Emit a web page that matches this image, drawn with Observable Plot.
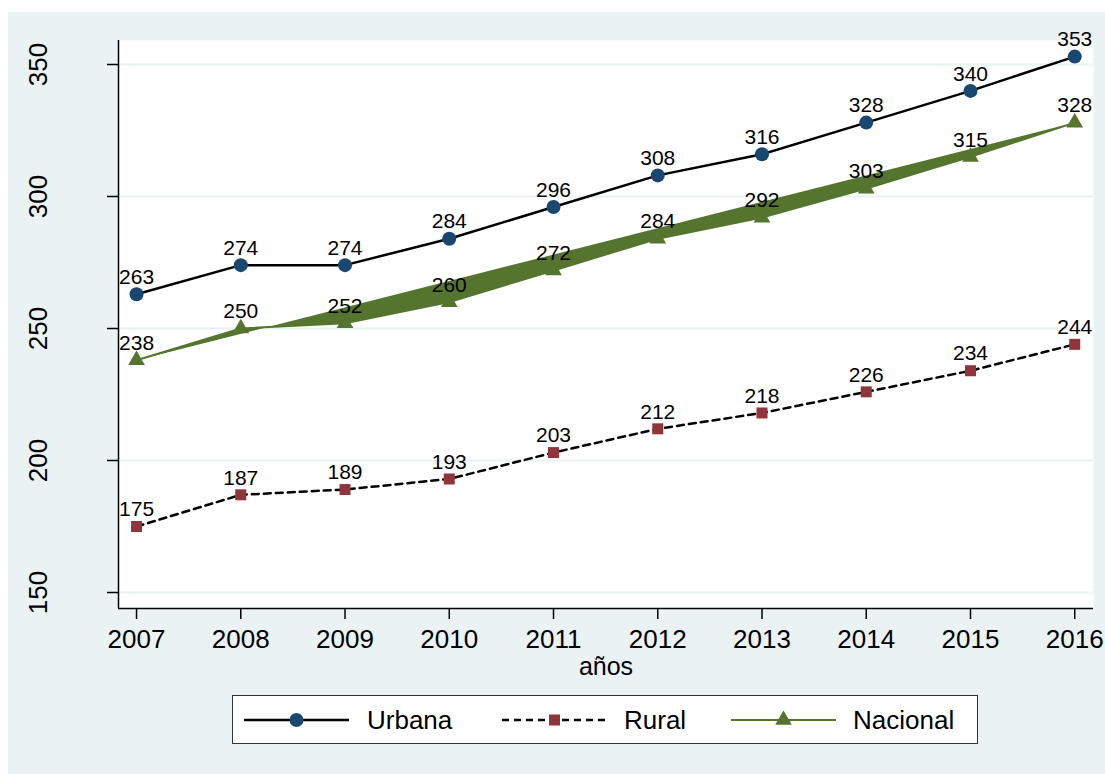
<!DOCTYPE html>
<html><head><meta charset="utf-8">
<script src="https://cdn.jsdelivr.net/npm/d3@7"></script>
<script src="https://cdn.jsdelivr.net/npm/@observablehq/plot@0.6"></script>
<style>
html,body{margin:0;padding:0;background:#fff;}
#wrap{position:absolute;left:8px;top:12px;width:1097px;height:762px;background:#EAF2F3;font-family:"Liberation Sans",Arial,sans-serif;overflow:hidden;}
#legend{position:absolute;left:224px;top:683px;width:744px;height:47px;background:#fff;border:1.5px solid #333;}
</style></head><body><div id="wrap"></div>
<script>
// ---- data ----
const years = [2007, 2008, 2009, 2010, 2011, 2012, 2013, 2014, 2015, 2016];
const urbana = [263, 274, 274, 284, 296, 308, 316, 328, 340, 353];
const rural = [175, 187, 189, 193, 203, 212, 218, 226, 234, 244];
const nacional = [238, 250, 252, 260, 272, 284, 292, 303, 315, 328];
const yTicks = [150, 200, 250, 300, 350];
const xLabel = "años";
const seriesNames = ["Urbana", "Rural", "Nacional"];

const navy = "#1A476F", maroon = "#90353B", green = "#55752F", bg = "#EAF2F3";
const xDomain = [2006.827, 2016.18];
const yDomain = [143.94, 359.09];
const font = "'Liberation Sans', Arial, sans-serif";

const chart = Plot.plot({
  width: 1097,
  height: 680,
  marginLeft: 110,
  marginRight: 12,
  marginTop: 28,
  marginBottom: 84,
  style: {background: bg, fontFamily: font, color: "#000", overflow: "visible"},
  x: {type: "linear", domain: xDomain, axis: null},
  y: {type: "linear", domain: yDomain, axis: null},
  marks: [
    Plot.frame({fill: "white", stroke: "none"}),
    Plot.ruleY(yTicks, {stroke: bg, strokeWidth: 2}),
    Plot.ruleX([xDomain[0]], {stroke: "#000", strokeWidth: 1.5}),
    Plot.ruleY([yDomain[0]], {stroke: "#000", strokeWidth: 1.5}),
    Plot.axisY({ticks: yTicks, tickSize: 11, tickFormat: () => "", label: null, strokeWidth: 1.5}),
    Plot.text(yTicks, {y: d => d, text: d => String(d), frameAnchor: "left", dx: -80, rotate: -90, fontSize: 26, textAnchor: "middle", lineAnchor: "middle"}),
    Plot.axisX({ticks: years, tickSize: 11, tickPadding: 10, tickFormat: d => String(d), label: null, fontSize: 26, strokeWidth: 1.5}),
    Plot.text([xLabel], {text: d => d, frameAnchor: "bottom", dy: 58, fontSize: 25, lineAnchor: "middle"}),
    // lines
    Plot.line(years, {x: years, y: urbana, stroke: "#000", strokeWidth: 2.5}),
    Plot.line(years, {x: years, y: rural, stroke: "#000", strokeWidth: 2.5, strokeDasharray: "7,5"}),
    Plot.line(years, {x: years, y: nacional, stroke: green, fill: green, strokeWidth: 2}),
    // markers
    Plot.dot(years, {x: years, y: urbana, r: 7, fill: navy, stroke: "none"}),
    Plot.dot(years, {x: years, y: rural, r: 6.2, symbol: "square", fill: maroon, stroke: "none"}),
    Plot.dot(years, {x: years, y: nacional, r: 6.2, symbol: "triangle", fill: green, stroke: "none"}),
    // labels
    Plot.text(years, {x: years, y: urbana, text: (d, i) => String(urbana[i]), dy: -17, fontSize: 21, lineAnchor: "middle"}),
    Plot.text(years, {x: years, y: rural, text: (d, i) => String(rural[i]), dy: -17, fontSize: 21, lineAnchor: "middle"}),
    Plot.text(years, {x: years, y: nacional, text: (d, i) => String(nacional[i]), dy: -17, fontSize: 21, lineAnchor: "middle"})
  ]
});

const wrap = document.getElementById("wrap");
wrap.appendChild(chart);

// ---- legend ----
const legend = document.createElement("div");
legend.id = "legend";
const ns = "http://www.w3.org/2000/svg";
const lsvg = document.createElementNS(ns, "svg");
lsvg.setAttribute("width", 744);
lsvg.setAttribute("height", 47);
lsvg.style.display = "block";
const items = [
  {name: seriesNames[0], x0: 11, dash: null, stroke: "#000", sym: d3.symbolCircle, size: Math.PI * 49, fill: navy, tx: 134},
  {name: seriesNames[1], x0: 269, dash: "7,5", stroke: "#000", sym: d3.symbolSquare, size: 121, fill: maroon, tx: 391},
  {name: seriesNames[2], x0: 498, dash: null, stroke: green, sym: d3.symbolTriangle, size: 120, fill: green, tx: 620}
];
const cy = 24;
for (const it of items) {
  const line = document.createElementNS(ns, "line");
  line.setAttribute("x1", it.x0); line.setAttribute("x2", it.x0 + 105);
  line.setAttribute("y1", cy); line.setAttribute("y2", cy);
  line.setAttribute("stroke", it.stroke);
  line.setAttribute("stroke-width", it.stroke === green ? 2 : 2.5);
  if (it.dash) line.setAttribute("stroke-dasharray", it.dash);
  lsvg.appendChild(line);
  const p = document.createElementNS(ns, "path");
  p.setAttribute("d", d3.symbol(it.sym, it.size)());
  p.setAttribute("transform", `translate(${it.x0 + 52.5},${cy})`);
  p.setAttribute("fill", it.fill);
  lsvg.appendChild(p);
  const t = document.createElementNS(ns, "text");
  t.setAttribute("x", it.tx); t.setAttribute("y", cy);
  t.setAttribute("dy", "0.36em");
  t.setAttribute("font-size", 26);
  t.setAttribute("font-family", font);
  t.textContent = it.name;
  lsvg.appendChild(t);
}
legend.appendChild(lsvg);
wrap.appendChild(legend);
</script></body></html>
